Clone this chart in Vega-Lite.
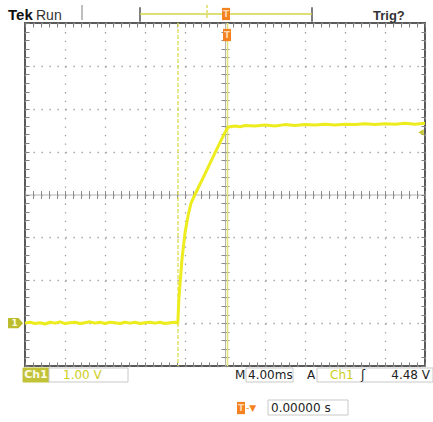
{
  "$schema": "https://vega.github.io/schema/vega-lite/v6.json",
  "width": 400,
  "height": 343,
  "autosize": "none",
  "padding": {"left": 25, "top": 23, "right": 8, "bottom": 56},
  "background": "white",
  "config": {"view": {"stroke": "#5a5a5a", "strokeWidth": 2}},
  "resolve": {"axis": {"x": "independent", "y": "independent"}},
  "datasets": {
    "wave": [
      {"t": -20, "v": 0.0}, {"t": -19.5, "v": 0.02}, {"t": -19, "v": -0.01}, {"t": -18.5, "v": 0.01},
      {"t": -18, "v": -0.02}, {"t": -17.5, "v": 0.02}, {"t": -17, "v": 0.0}, {"t": -16.5, "v": 0.03},
      {"t": -16, "v": -0.01}, {"t": -15.5, "v": 0.01}, {"t": -15, "v": 0.02}, {"t": -14.5, "v": -0.01},
      {"t": -14, "v": 0.01}, {"t": -13.5, "v": 0.03}, {"t": -13, "v": 0.0}, {"t": -12.5, "v": 0.02},
      {"t": -12, "v": -0.01}, {"t": -11.5, "v": 0.02}, {"t": -11, "v": 0.01}, {"t": -10.5, "v": -0.01},
      {"t": -10, "v": 0.02}, {"t": -9.5, "v": 0.0}, {"t": -9, "v": 0.02}, {"t": -8.5, "v": -0.01},
      {"t": -8, "v": 0.01}, {"t": -7.5, "v": 0.02}, {"t": -7, "v": 0.0}, {"t": -6.5, "v": 0.02},
      {"t": -6, "v": -0.01}, {"t": -5.5, "v": 0.01}, {"t": -5, "v": 0.02}, {"t": -4.72, "v": 0.0},
      {"t": -4.6, "v": 0.6}, {"t": -4.3, "v": 1.5}, {"t": -4.0, "v": 2.1}, {"t": -3.7, "v": 2.5},
      {"t": -3.4, "v": 2.8}, {"t": -3.0, "v": 3.0}, {"t": -2.0, "v": 3.48}, {"t": -1.0, "v": 3.97},
      {"t": 0.0, "v": 4.45}, {"t": 0.3, "v": 4.57}, {"t": 0.5, "v": 4.58}, {"t": 1, "v": 4.6},
      {"t": 1.5, "v": 4.58}, {"t": 2, "v": 4.61}, {"t": 3, "v": 4.6}, {"t": 4, "v": 4.62},
      {"t": 5, "v": 4.6}, {"t": 6, "v": 4.63}, {"t": 7, "v": 4.61}, {"t": 8, "v": 4.63},
      {"t": 9, "v": 4.62}, {"t": 10, "v": 4.64}, {"t": 11, "v": 4.62}, {"t": 12, "v": 4.64},
      {"t": 13, "v": 4.63}, {"t": 14, "v": 4.65}, {"t": 15, "v": 4.63}, {"t": 16, "v": 4.65},
      {"t": 17, "v": 4.64}, {"t": 18, "v": 4.66}, {"t": 19, "v": 4.64}, {"t": 20, "v": 4.66}
    ],
    "cursorA": [{"t": -4.7}],
    "cursorB": [{"t": 0.25}],
    "rules": [
      {"t": -14.3, "t2": -14.3, "v": 7.42, "v2": 7.07, "kind": "gray"},
      {"t": -8.5, "t2": -8.5, "v": 7.37, "v2": 7.03, "kind": "dark"},
      {"t": 8.7, "t2": 8.7, "v": 7.37, "v2": 7.03, "kind": "dark"},
      {"t": -8.5, "t2": 8.7, "v": 7.21, "v2": 7.21, "kind": "yellow"}
    ],
    "dashed": [
      {"t": -1.8, "v": 7.42, "v2": 7.07}
    ],
    "boxes": [
      {"t": -20.2, "t2": -17.6, "v": -1.047, "v2": -1.373, "kind": "badge"},
      {"t": -17.6, "t2": -9.7, "v": -1.047, "v2": -1.373, "kind": "frame"},
      {"t": 2.1, "t2": 6.8, "v": -1.047, "v2": -1.373, "kind": "frame"},
      {"t": 9.2, "t2": 20.8, "v": -1.047, "v2": -1.373, "kind": "frame"},
      {"t": 4.3, "t2": 12.3, "v": -1.793, "v2": -2.143, "kind": "frame"}
    ],
    "trig": [
      {"t": 0.1, "v": 7.21},
      {"t": 0.2, "v": 6.72},
      {"t": 1.6, "v": -1.98}
    ],
    "ground": [{"t": -20.95, "v": 0.0, "label": "1"}],
    "level": [{"t": 19.6, "v": 4.45}],
    "texts": [
      {"label": "Tek", "t": -21.7, "v": 7.07, "kind": "tek"},
      {"label": "Run", "t": -18.9, "v": 7.07, "kind": "head"},
      {"label": "Trig?", "t": 14.8, "v": 7.07, "kind": "headb"},
      {"label": "Ch1", "t": -18.9, "v": -1.22, "kind": "badge"},
      {"label": "1.00 V", "t": -16.2, "v": -1.22, "kind": "yellow"},
      {"label": "M", "t": 1.0, "v": -1.22, "kind": "status"},
      {"label": "4.00ms", "t": 2.3, "v": -1.22, "kind": "status"},
      {"label": "A", "t": 8.2, "v": -1.22, "kind": "status"},
      {"label": "Ch1", "t": 10.5, "v": -1.22, "kind": "yellow"},
      {"label": "ʃ", "t": 13.6, "v": -1.22, "kind": "status"},
      {"label": "4.48 V", "t": 20.5, "v": -1.22, "kind": "statusr"},
      {"label": "0.00000 s", "t": 4.6, "v": -1.98, "kind": "status"},
      {"label": "-▼", "t": 2.1, "v": -1.98, "kind": "orange"}
    ]
  },
  "layer": [
    {
      "data": {"name": "wave"},
      "mark": {"type": "point", "opacity": 0},
      "encoding": {
        "x": {"field": "t", "type": "quantitative", "scale": {"domain": [-20, 20], "nice": false, "zero": false},
          "axis": {"orient": "bottom", "values": [-20, -16, -12, -8, -4, 0, 4, 8, 12, 16, 20], "grid": true, "gridColor": "#9a9a9a", "gridDash": [1.3, 7.275], "gridWidth": 1.3, "ticks": false, "labels": false, "domain": false, "title": null}},
        "y": {"field": "v", "type": "quantitative", "scale": {"domain": [-1, 7], "nice": false, "zero": false},
          "axis": {"orient": "left", "values": [-1, 0, 1, 2, 3, 4, 5, 6, 7], "grid": true, "gridColor": "#9a9a9a", "gridDash": [1.3, 6.7], "gridWidth": 1.3, "ticks": false, "labels": false, "domain": false, "title": null}}
      }
    },
    {
      "data": {"name": "wave"},
      "mark": {"type": "point", "opacity": 0},
      "encoding": {
        "x": {"field": "t", "type": "quantitative", "scale": {"domain": [-20, 20], "nice": false, "zero": false},
          "axis": {"orient": "top", "offset": -343, "values": [-20, -19.2, -18.4, -17.6, -16.8, -16, -15.2, -14.4, -13.6, -12.8, -12, -11.2, -10.4, -9.6, -8.8, -8, -7.2, -6.4, -5.6, -4.8, -4, -3.2, -2.4, -1.6, -0.8, 0, 0.8, 1.6, 2.4, 3.2, 4, 4.8, 5.6, 6.4, 7.2, 8, 8.8, 9.6, 10.4, 11.2, 12, 12.8, 13.6, 14.4, 15.2, 16, 16.8, 17.6, 18.4, 19.2, 20], "grid": false, "ticks": true, "tickSize": 4, "tickColor": "#808080", "labels": false, "domain": false, "title": null}},
        "y": {"field": "v", "type": "quantitative", "scale": {"domain": [-1, 7], "nice": false, "zero": false},
          "axis": {"orient": "right", "offset": -400, "values": [-1, -0.8, -0.6, -0.4, -0.2, 0, 0.2, 0.4, 0.6, 0.8, 1, 1.2, 1.4, 1.6, 1.8, 2, 2.2, 2.4, 2.6, 2.8, 3, 3.2, 3.4, 3.6, 3.8, 4, 4.2, 4.4, 4.6, 4.8, 5, 5.2, 5.4, 5.6, 5.8, 6, 6.2, 6.4, 6.6, 6.8, 7], "grid": false, "ticks": true, "tickSize": 4, "tickColor": "#808080", "labels": false, "domain": false, "title": null}}
      }
    },
    {
      "data": {"name": "wave"},
      "mark": {"type": "point", "opacity": 0},
      "encoding": {
        "x": {"field": "t", "type": "quantitative", "scale": {"domain": [-20, 20], "nice": false, "zero": false},
          "axis": {"orient": "bottom", "offset": -343, "values": [-20, -19.2, -18.4, -17.6, -16.8, -16, -15.2, -14.4, -13.6, -12.8, -12, -11.2, -10.4, -9.6, -8.8, -8, -7.2, -6.4, -5.6, -4.8, -4, -3.2, -2.4, -1.6, -0.8, 0, 0.8, 1.6, 2.4, 3.2, 4, 4.8, 5.6, 6.4, 7.2, 8, 8.8, 9.6, 10.4, 11.2, 12, 12.8, 13.6, 14.4, 15.2, 16, 16.8, 17.6, 18.4, 19.2, 20], "grid": false, "ticks": true, "tickSize": 4, "tickColor": "#808080", "labels": false, "domain": false, "title": null}},
        "y": {"field": "v", "type": "quantitative", "scale": {"domain": [-1, 7], "nice": false, "zero": false},
          "axis": {"orient": "left", "offset": -400, "values": [-1, -0.8, -0.6, -0.4, -0.2, 0, 0.2, 0.4, 0.6, 0.8, 1, 1.2, 1.4, 1.6, 1.8, 2, 2.2, 2.4, 2.6, 2.8, 3, 3.2, 3.4, 3.6, 3.8, 4, 4.2, 4.4, 4.6, 4.8, 5, 5.2, 5.4, 5.6, 5.8, 6, 6.2, 6.4, 6.6, 6.8, 7], "grid": false, "ticks": true, "tickSize": 4, "tickColor": "#808080", "labels": false, "domain": false, "title": null}}
      }
    },
    {
      "data": {"name": "wave"},
      "mark": {"type": "point", "opacity": 0},
      "encoding": {
        "x": {"field": "t", "type": "quantitative", "scale": {"domain": [-20, 20], "nice": false, "zero": false},
          "axis": {"orient": "bottom", "offset": -171.5, "values": [-20, -19.2, -18.4, -17.6, -16.8, -16, -15.2, -14.4, -13.6, -12.8, -12, -11.2, -10.4, -9.6, -8.8, -8, -7.2, -6.4, -5.6, -4.8, -4, -3.2, -2.4, -1.6, -0.8, 0, 0.8, 1.6, 2.4, 3.2, 4, 4.8, 5.6, 6.4, 7.2, 8, 8.8, 9.6, 10.4, 11.2, 12, 12.8, 13.6, 14.4, 15.2, 16, 16.8, 17.6, 18.4, 19.2, 20], "grid": false, "ticks": true, "tickSize": 4, "tickColor": "#8a8a8a", "labels": false, "domain": true, "domainColor": "#b4b4b4", "domainWidth": 1, "title": null}},
        "y": {"field": "v", "type": "quantitative", "scale": {"domain": [-1, 7], "nice": false, "zero": false},
          "axis": {"orient": "left", "offset": -200, "values": [-1, -0.8, -0.6, -0.4, -0.2, 0, 0.2, 0.4, 0.6, 0.8, 1, 1.2, 1.4, 1.6, 1.8, 2, 2.2, 2.4, 2.6, 2.8, 3, 3.2, 3.4, 3.6, 3.8, 4, 4.2, 4.4, 4.6, 4.8, 5, 5.2, 5.4, 5.6, 5.8, 6, 6.2, 6.4, 6.6, 6.8, 7], "grid": false, "ticks": true, "tickSize": 4, "tickColor": "#8a8a8a", "labels": false, "domain": true, "domainColor": "#b4b4b4", "domainWidth": 1, "title": null}}
      }
    },
    {
      "data": {"name": "wave"},
      "mark": {"type": "point", "opacity": 0},
      "encoding": {
        "x": {"field": "t", "type": "quantitative", "scale": {"domain": [-20, 20], "nice": false, "zero": false},
          "axis": {"orient": "top", "offset": -171.5, "values": [-20, -19.2, -18.4, -17.6, -16.8, -16, -15.2, -14.4, -13.6, -12.8, -12, -11.2, -10.4, -9.6, -8.8, -8, -7.2, -6.4, -5.6, -4.8, -4, -3.2, -2.4, -1.6, -0.8, 0, 0.8, 1.6, 2.4, 3.2, 4, 4.8, 5.6, 6.4, 7.2, 8, 8.8, 9.6, 10.4, 11.2, 12, 12.8, 13.6, 14.4, 15.2, 16, 16.8, 17.6, 18.4, 19.2, 20], "grid": false, "ticks": true, "tickSize": 4, "tickColor": "#8a8a8a", "labels": false, "domain": false, "title": null}},
        "y": {"field": "v", "type": "quantitative", "scale": {"domain": [-1, 7], "nice": false, "zero": false},
          "axis": {"orient": "right", "offset": -200, "values": [-1, -0.8, -0.6, -0.4, -0.2, 0, 0.2, 0.4, 0.6, 0.8, 1, 1.2, 1.4, 1.6, 1.8, 2, 2.2, 2.4, 2.6, 2.8, 3, 3.2, 3.4, 3.6, 3.8, 4, 4.2, 4.4, 4.6, 4.8, 5, 5.2, 5.4, 5.6, 5.8, 6, 6.2, 6.4, 6.6, 6.8, 7], "grid": false, "ticks": true, "tickSize": 4, "tickColor": "#8a8a8a", "labels": false, "domain": false, "title": null}}
      }
    },
    {
      "data": {"name": "cursorA"},
      "mark": {"type": "rule", "color": "#dcdc55", "strokeWidth": 1.3, "strokeDash": [4, 2]},
      "encoding": {
        "x": {"field": "t", "type": "quantitative", "scale": {"domain": [-20, 20], "nice": false, "zero": false}, "axis": null}
      }
    },
    {
      "data": {"name": "cursorB"},
      "mark": {"type": "rule", "color": "#e4e47c", "strokeWidth": 1.6},
      "encoding": {
        "x": {"field": "t", "type": "quantitative", "scale": {"domain": [-20, 20], "nice": false, "zero": false}, "axis": null}
      }
    },
    {
      "data": {"name": "wave"},
      "mark": {"type": "line", "color": "#ecec1e", "strokeWidth": 3, "strokeJoin": "round"},
      "encoding": {
        "x": {"field": "t", "type": "quantitative", "scale": {"domain": [-20, 20], "nice": false, "zero": false}, "axis": null},
        "y": {"field": "v", "type": "quantitative", "scale": {"domain": [-1, 7], "nice": false, "zero": false}, "axis": null}
      }
    },
    {
      "data": {"name": "rules"},
      "mark": {"type": "rule", "strokeWidth": 1.5},
      "encoding": {
        "x": {"field": "t", "type": "quantitative", "scale": {"domain": [-20, 20], "nice": false, "zero": false}, "axis": null},
        "x2": {"field": "t2"},
        "y": {"field": "v", "type": "quantitative", "scale": {"domain": [-1, 7], "nice": false, "zero": false}, "axis": null},
        "y2": {"field": "v2"},
        "color": {"field": "kind", "type": "nominal", "scale": {"domain": ["gray", "dark", "yellow"], "range": ["#a8a8a8", "#555555", "#d4d44a"]}, "legend": null}
      }
    },
    {
      "data": {"name": "dashed"},
      "mark": {"type": "rule", "strokeWidth": 1.5, "color": "#dede60", "strokeDash": [3, 2]},
      "encoding": {
        "x": {"field": "t", "type": "quantitative", "scale": {"domain": [-20, 20], "nice": false, "zero": false}, "axis": null},
        "y": {"field": "v", "type": "quantitative", "scale": {"domain": [-1, 7], "nice": false, "zero": false}, "axis": null},
        "y2": {"field": "v2"}
      }
    },
    {
      "data": {"name": "boxes"},
      "mark": {"type": "rect", "strokeWidth": 1},
      "encoding": {
        "x": {"field": "t", "type": "quantitative", "scale": {"domain": [-20, 20], "nice": false, "zero": false}, "axis": null},
        "x2": {"field": "t2"},
        "y": {"field": "v", "type": "quantitative", "scale": {"domain": [-1, 7], "nice": false, "zero": false}, "axis": null},
        "y2": {"field": "v2"},
        "fill": {"field": "kind", "type": "nominal", "scale": {"domain": ["badge", "frame"], "range": ["#c2c238", "#ffffff"]}, "legend": null},
        "stroke": {"field": "kind", "type": "nominal", "scale": {"domain": ["badge", "frame"], "range": ["#c2c238", "#c8c8c8"]}, "legend": null}
      }
    },
    {
      "data": {"name": "trig"},
      "mark": {"type": "point", "filled": true, "color": "#f58220", "opacity": 1, "shape": "M-0.65,-1H0.65V1H-0.65Z", "size": 150},
      "encoding": {
        "x": {"field": "t", "type": "quantitative", "scale": {"domain": [-20, 20], "nice": false, "zero": false}, "axis": null},
        "y": {"field": "v", "type": "quantitative", "scale": {"domain": [-1, 7], "nice": false, "zero": false}, "axis": null}
      }
    },
    {
      "data": {"name": "trig"},
      "mark": {"type": "text", "text": "T", "color": "#ffd9b0", "font": "DejaVu Sans", "fontWeight": "bold", "fontSize": 9, "align": "center", "baseline": "middle"},
      "encoding": {
        "x": {"field": "t", "type": "quantitative", "scale": {"domain": [-20, 20], "nice": false, "zero": false}, "axis": null},
        "y": {"field": "v", "type": "quantitative", "scale": {"domain": [-1, 7], "nice": false, "zero": false}, "axis": null}
      }
    },
    {
      "data": {"name": "ground"},
      "mark": {"type": "point", "filled": true, "color": "#bcbc2c", "opacity": 1, "shape": "M-1,-0.67L0.4,-0.67L1,0L0.4,0.67L-1,0.67Z", "size": 225},
      "encoding": {
        "x": {"field": "t", "type": "quantitative", "scale": {"domain": [-20, 20], "nice": false, "zero": false}, "axis": null},
        "y": {"field": "v", "type": "quantitative", "scale": {"domain": [-1, 7], "nice": false, "zero": false}, "axis": null}
      }
    },
    {
      "data": {"name": "ground"},
      "mark": {"type": "text", "color": "#fbfbe0", "font": "DejaVu Sans", "fontWeight": "bold", "fontSize": 9, "align": "center", "baseline": "middle", "dx": -1},
      "encoding": {
        "x": {"field": "t", "type": "quantitative", "scale": {"domain": [-20, 20], "nice": false, "zero": false}, "axis": null},
        "y": {"field": "v", "type": "quantitative", "scale": {"domain": [-1, 7], "nice": false, "zero": false}, "axis": null},
        "text": {"field": "label"}
      }
    },
    {
      "data": {"name": "level"},
      "mark": {"type": "point", "filled": true, "color": "#c6c630", "opacity": 1, "shape": "triangle-left", "size": 40},
      "encoding": {
        "x": {"field": "t", "type": "quantitative", "scale": {"domain": [-20, 20], "nice": false, "zero": false}, "axis": null},
        "y": {"field": "v", "type": "quantitative", "scale": {"domain": [-1, 7], "nice": false, "zero": false}, "axis": null}
      }
    },
    {
      "data": {"name": "texts"},
      "transform": [{"filter": "datum.kind === 'tek'"}],
      "mark": {"type": "text", "font": "Liberation Sans", "fontWeight": "bold", "fontSize": 15, "color": "#111111", "align": "left", "baseline": "alphabetic"},
      "encoding": {
        "x": {"field": "t", "type": "quantitative", "scale": {"domain": [-20, 20], "nice": false, "zero": false}, "axis": null},
        "y": {"field": "v", "type": "quantitative", "scale": {"domain": [-1, 7], "nice": false, "zero": false}, "axis": null},
        "text": {"field": "label"}
      }
    },
    {
      "data": {"name": "texts"},
      "transform": [{"filter": "datum.kind === 'head'"}],
      "mark": {"type": "text", "font": "Liberation Sans", "fontSize": 14, "color": "#333333", "align": "left", "baseline": "alphabetic"},
      "encoding": {
        "x": {"field": "t", "type": "quantitative", "scale": {"domain": [-20, 20], "nice": false, "zero": false}, "axis": null},
        "y": {"field": "v", "type": "quantitative", "scale": {"domain": [-1, 7], "nice": false, "zero": false}, "axis": null},
        "text": {"field": "label"}
      }
    },
    {
      "data": {"name": "texts"},
      "transform": [{"filter": "datum.kind === 'headb'"}],
      "mark": {"type": "text", "font": "Liberation Sans", "fontWeight": "bold", "fontSize": 13, "color": "#333333", "align": "left", "baseline": "alphabetic"},
      "encoding": {
        "x": {"field": "t", "type": "quantitative", "scale": {"domain": [-20, 20], "nice": false, "zero": false}, "axis": null},
        "y": {"field": "v", "type": "quantitative", "scale": {"domain": [-1, 7], "nice": false, "zero": false}, "axis": null},
        "text": {"field": "label"}
      }
    },
    {
      "data": {"name": "texts"},
      "transform": [{"filter": "datum.kind === 'badge'"}],
      "mark": {"type": "text", "font": "DejaVu Sans", "fontWeight": "bold", "fontSize": 11, "color": "#fbfbe6", "align": "center", "baseline": "middle"},
      "encoding": {
        "x": {"field": "t", "type": "quantitative", "scale": {"domain": [-20, 20], "nice": false, "zero": false}, "axis": null},
        "y": {"field": "v", "type": "quantitative", "scale": {"domain": [-1, 7], "nice": false, "zero": false}, "axis": null},
        "text": {"field": "label"}
      }
    },
    {
      "data": {"name": "texts"},
      "transform": [{"filter": "datum.kind === 'yellow'"}],
      "mark": {"type": "text", "font": "DejaVu Sans", "fontSize": 12, "color": "#cdcd1c", "align": "left", "baseline": "middle"},
      "encoding": {
        "x": {"field": "t", "type": "quantitative", "scale": {"domain": [-20, 20], "nice": false, "zero": false}, "axis": null},
        "y": {"field": "v", "type": "quantitative", "scale": {"domain": [-1, 7], "nice": false, "zero": false}, "axis": null},
        "text": {"field": "label"}
      }
    },
    {
      "data": {"name": "texts"},
      "transform": [{"filter": "datum.kind === 'status'"}],
      "mark": {"type": "text", "font": "DejaVu Sans", "fontSize": 12, "color": "#222222", "align": "left", "baseline": "middle"},
      "encoding": {
        "x": {"field": "t", "type": "quantitative", "scale": {"domain": [-20, 20], "nice": false, "zero": false}, "axis": null},
        "y": {"field": "v", "type": "quantitative", "scale": {"domain": [-1, 7], "nice": false, "zero": false}, "axis": null},
        "text": {"field": "label"}
      }
    },
    {
      "data": {"name": "texts"},
      "transform": [{"filter": "datum.kind === 'statusr'"}],
      "mark": {"type": "text", "font": "DejaVu Sans", "fontSize": 12, "color": "#222222", "align": "right", "baseline": "middle"},
      "encoding": {
        "x": {"field": "t", "type": "quantitative", "scale": {"domain": [-20, 20], "nice": false, "zero": false}, "axis": null},
        "y": {"field": "v", "type": "quantitative", "scale": {"domain": [-1, 7], "nice": false, "zero": false}, "axis": null},
        "text": {"field": "label"}
      }
    },
    {
      "data": {"name": "texts"},
      "transform": [{"filter": "datum.kind === 'orange'"}],
      "mark": {"type": "text", "font": "DejaVu Sans", "fontSize": 9, "color": "#f58220", "align": "left", "baseline": "middle"},
      "encoding": {
        "x": {"field": "t", "type": "quantitative", "scale": {"domain": [-20, 20], "nice": false, "zero": false}, "axis": null},
        "y": {"field": "v", "type": "quantitative", "scale": {"domain": [-1, 7], "nice": false, "zero": false}, "axis": null},
        "text": {"field": "label"}
      }
    }
  ]
}
